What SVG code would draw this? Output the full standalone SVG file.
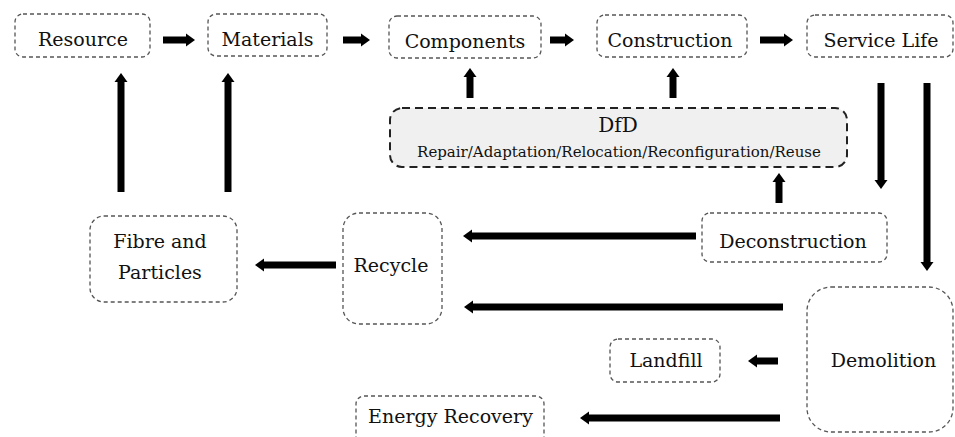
<svg xmlns="http://www.w3.org/2000/svg" width="955" height="437" viewBox="0 0 955 437">
<defs>
<marker id="ah" markerUnits="userSpaceOnUse" markerWidth="10" markerHeight="14" refX="0" refY="7" orient="auto" overflow="visible">
<path d="M0,0.5 L9,7 L0,13.5 z" fill="#000"/>
</marker>
<style>
.box{fill:#fff;stroke:#555;stroke-width:1.3;stroke-dasharray:4 3}
.dfd{fill:#f0f0f0;stroke:#222;stroke-width:2;stroke-dasharray:8 5}
.t{font-family:"DejaVu Serif","Liberation Serif",serif;font-size:19px;fill:#111;text-anchor:middle}
.h{font-family:"DejaVu Serif","Liberation Serif",serif;font-size:20px;fill:#111;text-anchor:middle}
.s{font-family:"DejaVu Serif","Liberation Serif",serif;font-size:15px;fill:#111;text-anchor:middle}
.a{fill:none;stroke:#000;stroke-width:7;marker-end:url(#ah)}
</style>
</defs>
<rect width="955" height="437" fill="#fff"/>
<g id="connectors">
<path class="a" d="M163,40 H186"/>
<path class="a" d="M343,40 H361"/>
<path class="a" d="M550,40 H565"/>
<path class="a" d="M760,40 H784"/>
<path class="a" d="M470,98 V77"/>
<path class="a" d="M673,98 V77"/>
<path class="a" d="M121,192 V82"/>
<path class="a" d="M228,192 V82"/>
<path class="a" d="M881,83 V180"/>
<path class="a" d="M927,83 V262"/>
<path class="a" d="M779,203 V182"/>
<path class="a" d="M696,236 H472"/>
<path class="a" d="M783,307 H473"/>
<path class="a" d="M778,361 H757"/>
<path class="a" d="M780,418 H589"/>
<path class="a" d="M336,265 H264"/>
</g>
<g id="resource"><rect class="box" x="15" y="14" width="135" height="43" rx="8"/><text class="t" x="83" y="46">Resource</text></g>
<g id="materials"><rect class="box" x="208" y="14" width="119" height="42" rx="8"/><text class="t" x="267.5" y="46">Materials</text></g>
<g id="components"><rect class="box" x="389" y="16" width="152" height="42" rx="8"/><text class="t" x="465" y="48">Components</text></g>
<g id="construction"><rect class="box" x="597" y="15" width="150" height="42" rx="8"/><text class="t" x="670" y="47">Construction</text></g>
<g id="service-life"><rect class="box" x="807" y="15" width="146" height="42" rx="8"/><text class="t" x="881" y="47">Service Life</text></g>
<g id="dfd"><rect class="dfd" x="390" y="108" width="457" height="59" rx="12"/><text class="h" x="618" y="132">DfD</text><text class="s" x="619" y="157">Repair/Adaptation/Relocation/Reconfiguration/Reuse</text></g>
<g id="fibre"><rect class="box" x="90" y="216" width="147" height="86" rx="14"/><text class="t" x="160" y="248">Fibre and</text><text class="t" x="160" y="279">Particles</text></g>
<g id="recycle"><rect class="box" x="343" y="213" width="99" height="111" rx="16"/><text class="t" x="391" y="272">Recycle</text></g>
<g id="deconstruction"><rect class="box" x="702" y="213" width="185" height="49" rx="8"/><text class="t" x="793" y="248">Deconstruction</text></g>
<g id="demolition"><rect class="box" x="807" y="287" width="146" height="145" rx="24"/><text class="t" x="883.5" y="367">Demolition</text></g>
<g id="landfill"><rect class="box" x="610" y="339" width="110" height="43" rx="8"/><text class="t" x="666" y="367">Landfill</text></g>
<g id="energy-recovery"><rect class="box" x="356" y="396" width="188" height="50" rx="8"/><text class="t" x="450.5" y="423">Energy Recovery</text></g>
</svg>
